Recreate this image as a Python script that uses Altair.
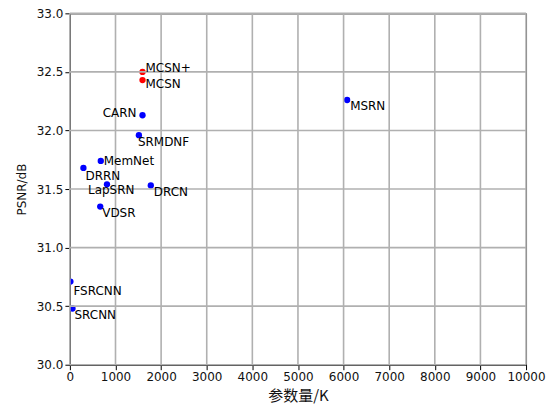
import altair as alt
import pandas as pd

names = ["MCSN+", "MCSN", "CARN", "SRMDNF", "MemNet", "DRRN", "LapSRN",
         "DRCN", "VDSR", "MSRN", "FSRCNN", "SRCNN"]
params = [1592, 1592, 1592, 1513, 677, 297, 813, 1774, 665, 6078, 12, 57]
psnr = [32.50, 32.43, 32.13, 31.96, 31.74, 31.68, 31.54, 31.53, 31.35, 32.26, 30.71, 30.48]
group = ["ours", "ours", "other", "other", "other", "other", "other",
         "other", "other", "other", "other", "other"]

x_ticks = list(range(0, 10001, 1000))
y_ticks = [30.0, 30.5, 31.0, 31.5, 32.0, 32.5, 33.0]

df = pd.DataFrame({"name": names, "params": params, "psnr": psnr, "group": group})

# label placement (layout only): align, dx, dy
label_layout = {
    "MCSN+": ("left", 3, -4),
    "MCSN": ("left", 3, 4),
    "CARN": ("right", -6, -2),
    "SRMDNF": ("left", -1, 7),
    "MemNet": ("left", 3, 0),
    "DRRN": ("left", 2, 8),
    "LapSRN": ("left", -19, 6),
    "DRCN": ("left", 3, 7),
    "VDSR": ("left", 2, 6),
    "MSRN": ("left", 3, 6),
    "FSRCNN": ("left", 3, 9),
    "SRCNN": ("left", 2, 7),
}

FONT = "DejaVu Sans"
GRID = "#b0b0b0"

x_scale = alt.Scale(domain=[0, 10000], nice=False)
y_scale = alt.Scale(domain=[30, 33], nice=False, zero=False)

x_axis = alt.Axis(values=x_ticks, title="参数量/K", format="d",
                  labelOverlap=False, labelFlush=False,
                  titleFont="Noto Sans CJK SC", titleFontSize=15,
                  titleFontWeight="normal", titlePadding=6)
y_axis = alt.Axis(values=y_ticks, title="PSNR/dB", format=".1f",
                  labelOverlap=False, labelFlush=False,
                  titleFontSize=12, titleFontWeight="normal",
                  titlePadding=8)

x_enc = alt.X("params:Q", scale=x_scale, axis=x_axis)
y_enc = alt.Y("psnr:Q", scale=y_scale, axis=y_axis)

base = alt.Chart(df).encode(x=x_enc, y=y_enc)

points = base.mark_circle(size=40, opacity=1, clip=True).encode(
    color=alt.Color("group:N", scale=alt.Scale(domain=["ours", "other"],
                                               range=["#ff0000", "#0000ff"]),
                    legend=None)
)

# grid drawn above the points (as matplotlib does), below the labels
vgrid = alt.Chart(pd.DataFrame({"params": x_ticks})).mark_rule(
    color=GRID, strokeWidth=1.6
).encode(x=x_enc)
hgrid = alt.Chart(pd.DataFrame({"psnr": y_ticks})).mark_rule(
    color=GRID, strokeWidth=1.6
).encode(y=y_enc)

layers = [points, vgrid, hgrid]
for nm, (al, dx, dy) in label_layout.items():
    layers.append(
        base.transform_filter(alt.datum.name == nm).mark_text(
            align=al, baseline="middle", dx=dx, dy=dy, font=FONT,
            fontSize=12, color="black"
        ).encode(text="name:N")
    )

chart = alt.layer(*layers).properties(
    width=457, height=352,
    autosize=alt.AutoSizeParams(type="none"),
    padding={"left": 62, "top": 5, "right": 21, "bottom": 41},
).configure_view(
    stroke="black", strokeWidth=1
).configure_axis(
    grid=False,
    domainColor="black", domainWidth=1,
    tickColor="black", tickSize=5, tickWidth=1,
    labelFont=FONT, labelFontSize=12, labelColor="#111111",
    labelPadding=2, titleFont=FONT, titleColor="#111111",
)

chart.save("out.html", embed_options={"renderer": "svg", "actions": False})
